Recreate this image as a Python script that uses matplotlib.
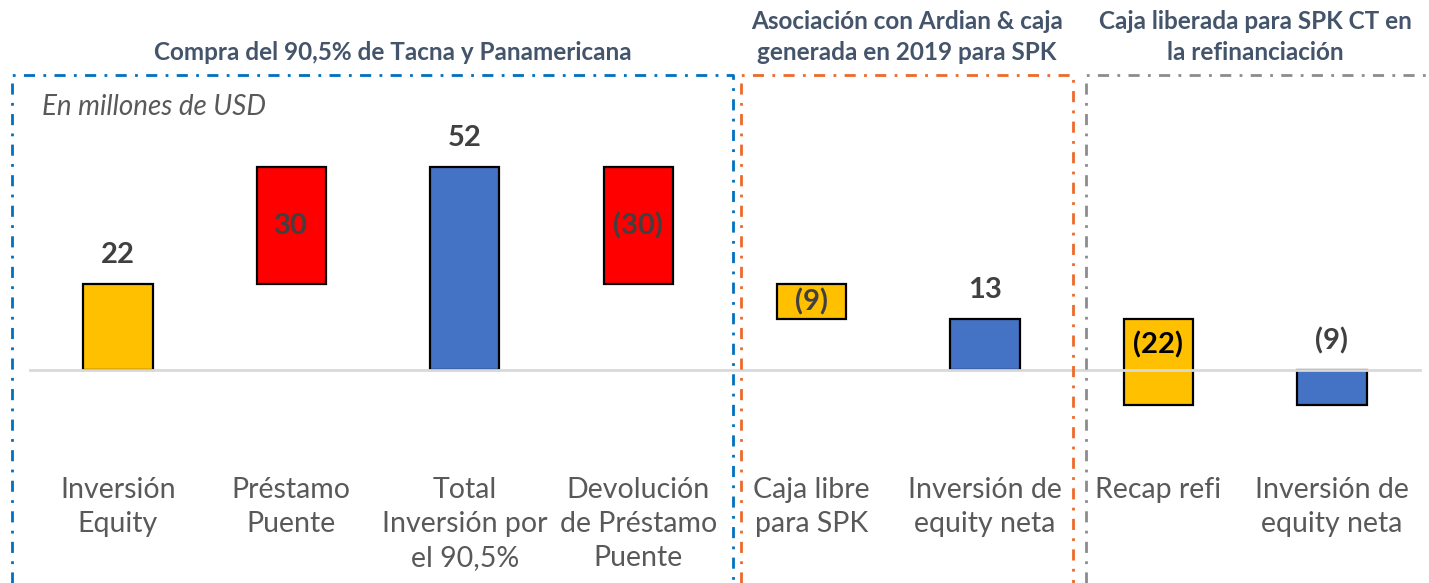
import matplotlib
matplotlib.use("Agg")
import matplotlib.pyplot as plt
from matplotlib.lines import Line2D
from matplotlib.transforms import blended_transform_factory

plt.rcParams['font.family'] = ['Lato', 'DejaVu Sans']

# ---- data ----
categories = ["Inversión\nEquity", "Préstamo\nPuente", "Total\nInversión por\nel 90,5%",
              "Devolución\nde Préstamo\nPuente", "Caja libre\npara SPK",
              "Inversión de\nequity neta", "Recap refi", "Inversión de\nequity neta"]
bar_bottoms = [0, 22, 0, 22, 13, 0, -9, -9]
bar_tops = [22, 52, 52, 52, 22, 13, 13, 0]
value_labels = ["22", "30", "52", "(30)", "(9)", "13", "(22)", "(9)"]
label_inside = [False, True, False, True, True, False, True, False]
bar_colors = ["#FFC000", "#FF0000", "#4472C4", "#FF0000", "#FFC000", "#4472C4", "#FFC000", "#4472C4"]
label_colors = ["#404040", "#404040", "#404040", "#404040", "#404040", "#404040", "#000000", "#404040"]
section_titles = ["Compra del 90,5% de Tacna y Panamericana",
                  "Asociación con Ardian & caja\ngenerada en 2019 para SPK",
                  "Caja liberada para SPK CT en\nla refinanciación"]

W, H = 1429, 583
fig = plt.figure(figsize=(W / 100, H / 100), dpi=100)
ax = fig.add_axes([0, 0, 1, 1])
ax.set_xlim(-0.68, 7.56)
ax.set_ylim(-54.6, 94.9)
ax.axis('off')

x = list(range(len(categories)))
heights = [t - b for t, b in zip(bar_tops, bar_bottoms)]
ax.bar(x, heights, bottom=bar_bottoms, width=0.40, color=bar_colors,
       edgecolor="black", linewidth=1.6, zorder=2)

# zero line
ax.plot([30 / W, 1420 / W], [0, 0], color="#D9D9D9", lw=2,
        transform=blended_transform_factory(fig.transFigure, ax.transData), zorder=3)

for i in x:
    lo, hi = bar_bottoms[i], bar_tops[i]
    if label_inside[i]:
        ymid = (max(lo, 0) + hi) / 2
        ax.text(i, ymid, value_labels[i], ha='center', va='center', fontsize=21,
                fontweight='bold', color=label_colors[i], zorder=4)
    else:
        ax.annotate(value_labels[i], (i, max(hi, 0)), xytext=(0, 21), textcoords='offset points',
                    ha='center', va='center', fontsize=21, fontweight='bold',
                    color=label_colors[i], zorder=4)
    ax.text(i, 1 - 477 / H, categories[i], transform=blended_transform_factory(ax.transData, ax.transAxes),
            ha='center', va='top', fontsize=20.5, color="#595959", linespacing=1.38)

# section boxes (figure pixel coords)
def fy(y):
    return 1 - y / H

def seg(xs, ys, color):
    fig.add_artist(Line2D([v / W for v in xs], [fy(v) for v in ys], color=color, lw=2,
                          linestyle=(0, (4, 3, 1, 3)), transform=fig.transFigure))

seg([12, 12, 733, 733], [583, 75, 75, 583], "#0070C0")
seg([741, 741, 1073, 1073], [583, 75, 75, 583], "#ED6A2A")
seg([1086, 1086, 1429], [583, 75, 75], "#8C8C8C")

fig.text(393 / W, fy(52), section_titles[0], ha='center', va='center', fontsize=17.5,
         fontweight='bold', color="#44546A")
fig.text(907 / W, fy(37), section_titles[1], ha='center', va='center', fontsize=17.5,
         fontweight='bold', color="#44546A", linespacing=1.4)
fig.text(1255 / W, fy(37), section_titles[2], ha='center', va='center', fontsize=17.5,
         fontweight='bold', color="#44546A", linespacing=1.4)

fig.text(42 / W, fy(107), "En millones de USD", ha='left', va='center', fontsize=20,
         style='italic', color="#595959")

fig.savefig("out.png", dpi=100)
